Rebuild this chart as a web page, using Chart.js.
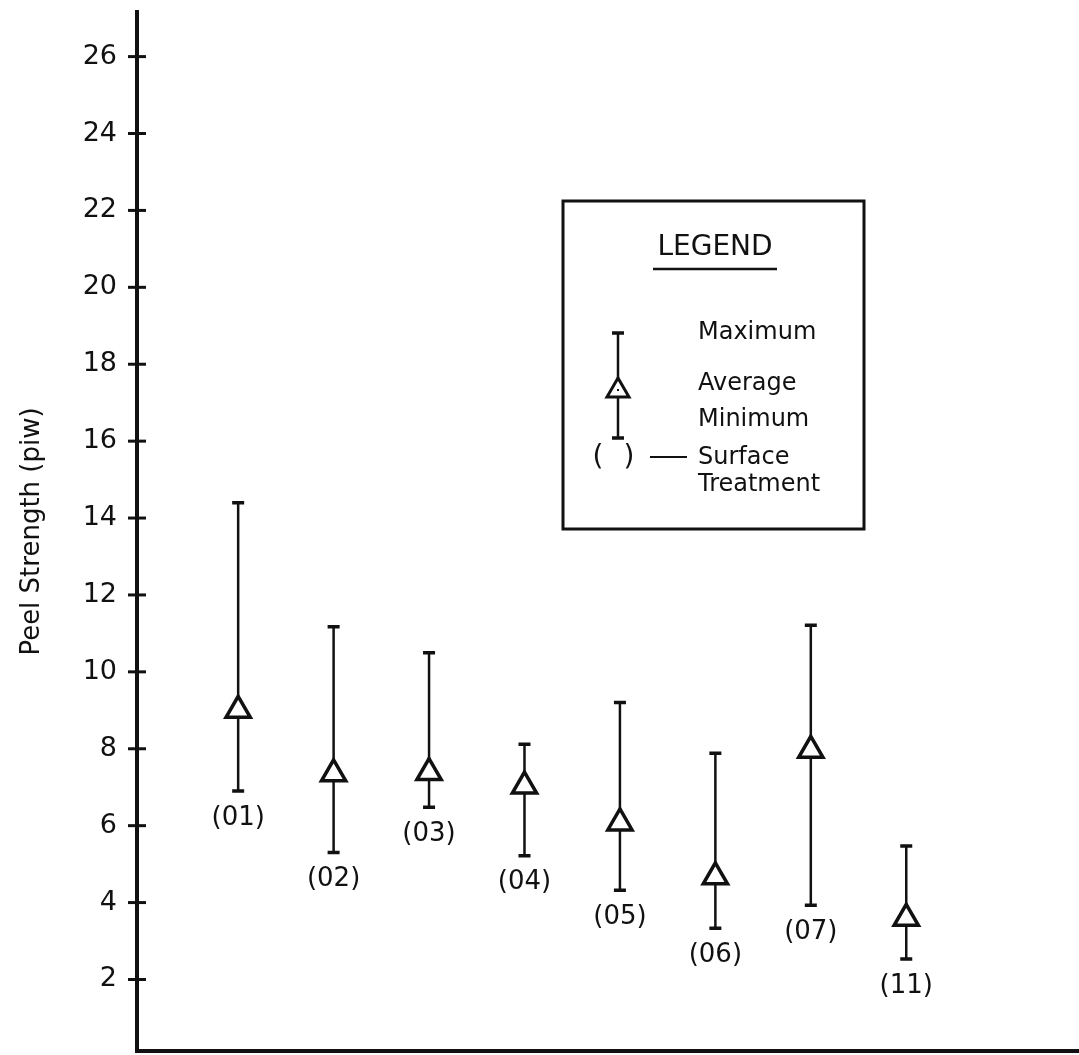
<!DOCTYPE html>
<html>
<head>
<meta charset="utf-8">
<script src="https://cdn.jsdelivr.net/npm/chart.js@4.4.1/dist/chart.umd.min.js"></script>
<style>
    body { margin: 0; background: #fff; }
    canvas { display: block; }
</style>
</head>
<body>
<canvas id="peel-chart" width="1079" height="1055"></canvas>
<script>
// surface treatments and peel strength (piw)
const treatments = ['01', '02', '03', '04', '05', '06', '07', '11'];
const avgStrength = [9.0, 7.35, 7.38, 7.03, 6.07, 4.67, 7.96, 3.59];
const maxStrength = [14.4, 11.17, 10.5, 8.12, 9.2, 7.88, 11.21, 5.47];
const minStrength = [6.9, 5.3, 6.48, 5.22, 4.32, 3.33, 3.93, 2.53];
const yTicks = [2, 4, 6, 8, 10, 12, 14, 16, 18, 20, 22, 24, 26];

const ink = '#111';
const fontFamily = '"DejaVu Sans", sans-serif';

// min/max lines with caps, drawn under the triangles
const whiskerPlugin = {
    id: 'whiskers',
    beforeDatasetsDraw(chart) {
        const { ctx, scales: { x, y } } = chart;
        ctx.save();
        ctx.strokeStyle = ink;
        treatments.forEach((t, i) => {
            const px = x.getPixelForValue(i + 1);
            const top = y.getPixelForValue(maxStrength[i]);
            const bottom = y.getPixelForValue(minStrength[i]);
            ctx.lineWidth = 2.5;
            ctx.beginPath();
            ctx.moveTo(px, top);
            ctx.lineTo(px, bottom);
            ctx.stroke();
            ctx.lineWidth = 3.5;
            ctx.beginPath();
            ctx.moveTo(px - 6, top);
            ctx.lineTo(px + 6, top);
            ctx.moveTo(px - 6, bottom);
            ctx.lineTo(px + 6, bottom);
            ctx.stroke();
        });
        ctx.restore();
    },
    afterDatasetsDraw(chart) {
        const { ctx, scales: { x, y } } = chart;
        ctx.save();
        ctx.fillStyle = ink;
        ctx.font = '26px ' + fontFamily;
        ctx.textAlign = 'center';
        ctx.textBaseline = 'middle';
        // treatment code under each bar
        treatments.forEach((t, i) => {
            const px = x.getPixelForValue(i + 1);
            const py = y.getPixelForValue(minStrength[i]) + 27;
            ctx.fillText('(' + t + ')', px, py);
        });
        // tick marks crossing the y axis
        ctx.strokeStyle = ink;
        ctx.lineWidth = 3;
        const ax = chart.chartArea.left;
        yTicks.forEach(v => {
            const py = y.getPixelForValue(v);
            ctx.beginPath();
            ctx.moveTo(ax - 9, py);
            ctx.lineTo(ax + 9, py);
            ctx.stroke();
        });
        ctx.restore();
    }
};

// legend box in the upper right
const legendBoxPlugin = {
    id: 'legendBox',
    afterDraw(chart) {
        const ctx = chart.ctx;
        ctx.save();
        ctx.strokeStyle = ink;
        ctx.fillStyle = ink;
        ctx.lineWidth = 3;
        ctx.strokeRect(563, 201, 301, 328);

        ctx.font = '28px ' + fontFamily;
        ctx.textAlign = 'center';
        ctx.textBaseline = 'middle';
        ctx.fillText('LEGEND', 715, 248);
        ctx.lineWidth = 2.5;
        ctx.beginPath();
        ctx.moveTo(653, 269);
        ctx.lineTo(777, 269);
        ctx.stroke();

        // sample error bar
        const sx = 618;
        ctx.lineWidth = 2.5;
        ctx.beginPath();
        ctx.moveTo(sx, 333);
        ctx.lineTo(sx, 438);
        ctx.stroke();
        ctx.lineWidth = 3.5;
        ctx.beginPath();
        ctx.moveTo(sx - 6, 333);
        ctx.lineTo(sx + 6, 333);
        ctx.moveTo(sx - 6, 438);
        ctx.lineTo(sx + 6, 438);
        ctx.stroke();
        ctx.lineWidth = 3;
        ctx.fillStyle = '#fff';
        ctx.beginPath();
        ctx.moveTo(sx, 378);
        ctx.lineTo(sx + 11, 397);
        ctx.lineTo(sx - 11, 397);
        ctx.closePath();
        ctx.fill();
        ctx.stroke();
        ctx.fillStyle = ink;
        ctx.fillRect(sx - 1, 389, 2, 2);

        ctx.font = '24px ' + fontFamily;
        ctx.textAlign = 'left';
        ctx.fillText('Maximum', 698, 333);
        ctx.fillText('Average', 698, 384);
        ctx.fillText('Minimum', 698, 420);
        ctx.fillText('Surface', 698, 458);
        ctx.fillText('Treatment', 698, 485);
        ctx.font = '28px ' + fontFamily;
        ctx.textAlign = 'center';
        ctx.fillText('(', 598, 458);
        ctx.fillText(')', 629, 458);
        ctx.lineWidth = 2;
        ctx.beginPath();
        ctx.moveTo(650, 457);
        ctx.lineTo(687, 457);
        ctx.stroke();
        ctx.restore();
    }
};

const canvas = document.getElementById('peel-chart');
new Chart(canvas, {
    type: 'scatter',
    data: {
        datasets: [{
            label: 'Average',
            data: treatments.map((t, i) => ({ x: i + 1, y: avgStrength[i] })),
            pointStyle: 'triangle',
            radius: 14,
            backgroundColor: '#fff',
            borderColor: ink,
            borderWidth: 3.5
        }, {
            // small centre dot inside each triangle
            label: 'centre',
            data: treatments.map((t, i) => ({ x: i + 1, y: avgStrength[i] })),
            pointStyle: 'circle',
            radius: 1.3,
            backgroundColor: ink,
            borderWidth: 0
        }]
    },
    options: {
        responsive: false,
        animation: false,
        devicePixelRatio: 1,
        layout: {
            autoPadding: false,
            padding: { top: 12, bottom: 4, left: 0, right: 0 }
        },
        scales: {
            x: {
                type: 'linear',
                min: -0.06,
                max: 9.81,
                grid: { display: false, drawTicks: false },
                ticks: { display: false },
                border: { display: true, color: ink, width: 4 },
                afterFit: scale => {
                    scale.height = 0;
                    scale.paddingLeft = 0;
                    scale.paddingRight = 0;
                }
            },
            y: {
                min: 0.14,
                max: 27.16,
                afterBuildTicks: scale => {
                    scale.ticks = yTicks.map(v => ({ value: v }));
                },
                afterFit: scale => {
                    scale.width = 137;
                    scale.paddingTop = 0;
                    scale.paddingBottom = 0;
                },
                grid: { display: false, drawTicks: false },
                border: { display: true, color: ink, width: 4 },
                ticks: {
                    color: ink,
                    padding: 20,
                    font: { family: fontFamily, size: 27 }
                },
                title: {
                    display: true,
                    text: 'Peel Strength (piw)',
                    color: ink,
                    padding: { top: 17, bottom: 0 },
                    font: { family: fontFamily, size: 26 }
                }
            }
        },
        plugins: {
            legend: { display: false },
            tooltip: { enabled: false }
        }
    },
    plugins: [whiskerPlugin, legendBoxPlugin]
});
</script>
</body>
</html>
